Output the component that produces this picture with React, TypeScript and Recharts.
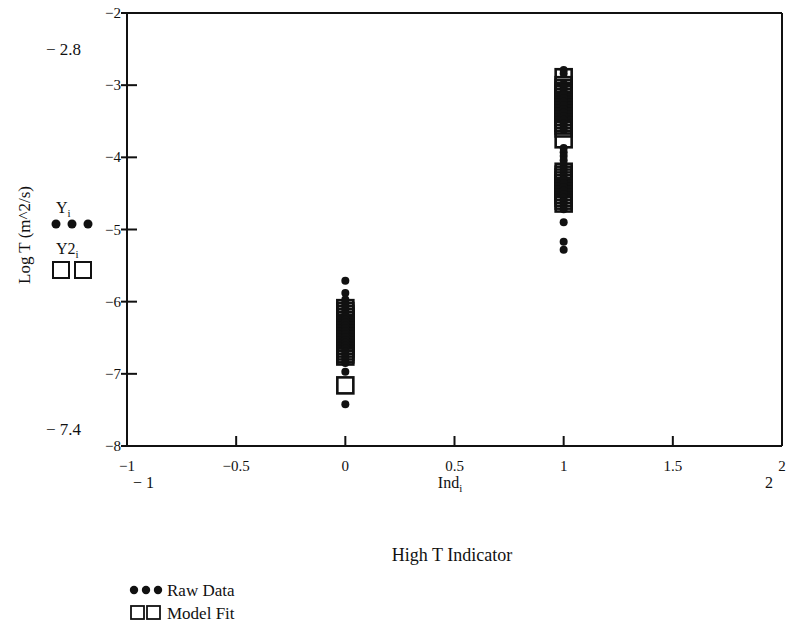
import { Scatter, ScatterChart, XAxis, YAxis } from 'recharts'

const FONT = '"Liberation Serif", "Times New Roman", serif'

const xTicks = [-1, -0.5, 0, 0.5, 1, 1.5, 2]
const yTicks = [-2, -3, -4, -5, -6, -7, -8]

// Y_i : raw log T values, by high-T indicator group
const rawLow = [
	-5.71, -5.88, -5.97, -6.01, -6.05, -6.09, -6.13, -6.17, -6.21, -6.25, -6.29, -6.33, -6.37,
	-6.41, -6.45, -6.49, -6.53, -6.57, -6.61, -6.65, -6.69, -6.73, -6.77, -6.81, -6.85, -6.97,
	-7.42,
]
const rawHigh = [
	-2.79, -2.84, -2.98, -3.03, -3.08, -3.13, -3.18, -3.23, -3.28, -3.33, -3.38, -3.43, -3.48,
	-3.53, -3.58, -3.62, -3.87, -3.93, -3.98, -4.04, -4.1, -4.16, -4.21, -4.26, -4.31, -4.36,
	-4.41, -4.46, -4.51, -4.56, -4.61, -4.66, -4.72, -4.9, -5.17, -5.28,
]

// Y2_i : model fit values
const fitLow = [
	-6.09, -6.13, -6.17, -6.21, -6.25, -6.29, -6.33, -6.37, -6.41, -6.45, -6.49, -6.53, -6.57,
	-6.61, -6.65, -6.69, -6.73, -6.76, -7.16,
]
const fitHigh = [
	-2.89, -3.0, -3.04, -3.08, -3.12, -3.16, -3.2, -3.24, -3.28, -3.32, -3.36, -3.4, -3.44, -3.48,
	-3.52, -3.56, -3.6, -3.75, -4.2, -4.24, -4.28, -4.32, -4.36, -4.4, -4.44, -4.48, -4.52, -4.56,
	-4.6, -4.64,
]

const rawData = [
	...rawLow.map((y) => ({ ind: 0, y })),
	...rawHigh.map((y) => ({ ind: 1, y })),
]
const fitData = [
	...fitLow.map((y) => ({ ind: 0, y })),
	...fitHigh.map((y) => ({ ind: 1, y })),
]

const fmt = (v: number) => (v < 0 ? `\u2212${Math.abs(v)}` : `${v}`)

const BottomTick = ({ x, y, payload }: any) => (
	<g>
		<line x1={x} x2={x} y1={y} y2={y - 10} stroke="#111" strokeWidth={2} />
		<text x={x} y={y + 25} textAnchor="middle" fontSize={15} fontFamily={FONT} fill="#111">
			{fmt(payload.value)}
		</text>
	</g>
)

const TopTick = ({ x, y }: any) => (
	<line x1={x} x2={x} y1={y} y2={y + 10} stroke="#111" strokeWidth={2} />
)

const LeftTick = ({ x, y, payload }: any) => (
	<g>
		<line x1={x - 6} x2={x + 10} y1={y} y2={y} stroke="#111" strokeWidth={2} />
		<text x={x - 6} y={y + 5} textAnchor="end" fontSize={15} fontFamily={FONT} fill="#111">
			{fmt(payload.value)}
		</text>
	</g>
)

const RightTick = ({ x, y }: any) => (
	<line x1={x} x2={x - 11} y1={y} y2={y} stroke="#111" strokeWidth={2} />
)

const Dot = ({ cx, cy }: any) => <circle cx={cx} cy={cy} r={4} fill="#111" />

const Box = ({ cx, cy }: any) => (
	<rect x={cx - 8} y={cy - 8} width={16} height={16} fill="none" stroke="#111" strokeWidth={2.6} />
)

const axisLine = { stroke: '#111', strokeWidth: 2 }

export default function App() {
	return (
		<div style={{ position: 'absolute', left: 0, top: 0, width: 792, height: 631, background: '#fff' }}>
			<ScatterChart width={792} height={631} margin={{ top: 3, right: 0, bottom: 155, left: 87 }}>
				<XAxis
					xAxisId="b"
					type="number"
					dataKey="ind"
					domain={[-1, 2]}
					ticks={xTicks}
					allowDataOverflow
					height={30}
					tickSize={0}
					tickMargin={0}
					tickLine={false}
					axisLine={axisLine}
					tick={BottomTick}
				/>
				<XAxis
					xAxisId="t"
					orientation="top"
					type="number"
					dataKey="ind"
					domain={[-1, 2]}
					ticks={xTicks.slice(1, -1)}
					height={10}
					tickSize={0}
					tickMargin={0}
					tickLine={false}
					axisLine={axisLine}
					tick={TopTick}
				/>
				<YAxis
					yAxisId="l"
					type="number"
					dataKey="y"
					domain={[-8, -2]}
					ticks={yTicks}
					allowDataOverflow
					width={40}
					tickSize={0}
					tickMargin={0}
					tickLine={false}
					axisLine={axisLine}
					tick={LeftTick}
				/>
				<YAxis
					yAxisId="r"
					orientation="right"
					type="number"
					dataKey="y"
					domain={[-8, -2]}
					ticks={yTicks.slice(1, -1)}
					width={10}
					tickSize={0}
					tickMargin={0}
					tickLine={false}
					axisLine={axisLine}
					tick={RightTick}
				/>
				<Scatter
					name="Model Fit"
					data={fitData}
					xAxisId="b"
					yAxisId="l"
					shape={Box}
					isAnimationActive={false}
				/>
				<Scatter
					name="Raw Data"
					data={rawData}
					xAxisId="b"
					yAxisId="l"
					shape={Dot}
					isAnimationActive={false}
				/>
			</ScatterChart>
			<svg
				width={792}
				height={631}
				style={{ position: 'absolute', left: 0, top: 0, pointerEvents: 'none' }}
				fontFamily={FONT}
				fill="#111"
			>
				{/* Mathcad axis range readouts */}
				<text x={46} y={55} fontSize={17}>{'\u2212 2.8'}</text>
				<text x={46} y={435} fontSize={17}>{'\u2212 7.4'}</text>
				<text x={133} y={488} fontSize={16}>{'\u2212 1'}</text>
				<text x={769} y={488} textAnchor="middle" fontSize={16}>2</text>

				<text x={450} y={488} textAnchor="middle" fontSize={16}>
					Ind<tspan fontSize={11} dy={4}>i</tspan>
				</text>
				<text x={452} y={561} textAnchor="middle" fontSize={18}>High T Indicator</text>
				<text transform="translate(30,235) rotate(-90)" textAnchor="middle" fontSize={17}>
					Log T (m^2/s)
				</text>

				{/* trace labels beside the y axis */}
				<text x={56} y={213} fontSize={16}>
					Y<tspan fontSize={11} dy={4}>i</tspan>
				</text>
				{[56, 72, 88].map((cx) => (
					<circle key={cx} cx={cx} cy={224} r={4.5} />
				))}
				<text x={56} y={254} fontSize={16}>
					Y2<tspan fontSize={11} dy={4}>i</tspan>
				</text>
				{[53, 75].map((x) => (
					<rect key={x} x={x} y={262} width={16} height={16} fill="none" stroke="#111" strokeWidth={2} />
				))}

				{/* legend */}
				{[134, 146, 158].map((cx) => (
					<circle key={cx} cx={cx} cy={590} r={4.2} />
				))}
				<text x={167} y={596} fontSize={17}>Raw Data</text>
				{[131, 147].map((x) => (
					<rect key={x} x={x} y={606} width={13} height={13} fill="none" stroke="#111" strokeWidth={1.8} />
				))}
				<text x={167} y={619} fontSize={17}>Model Fit</text>
			</svg>
		</div>
	)
}
